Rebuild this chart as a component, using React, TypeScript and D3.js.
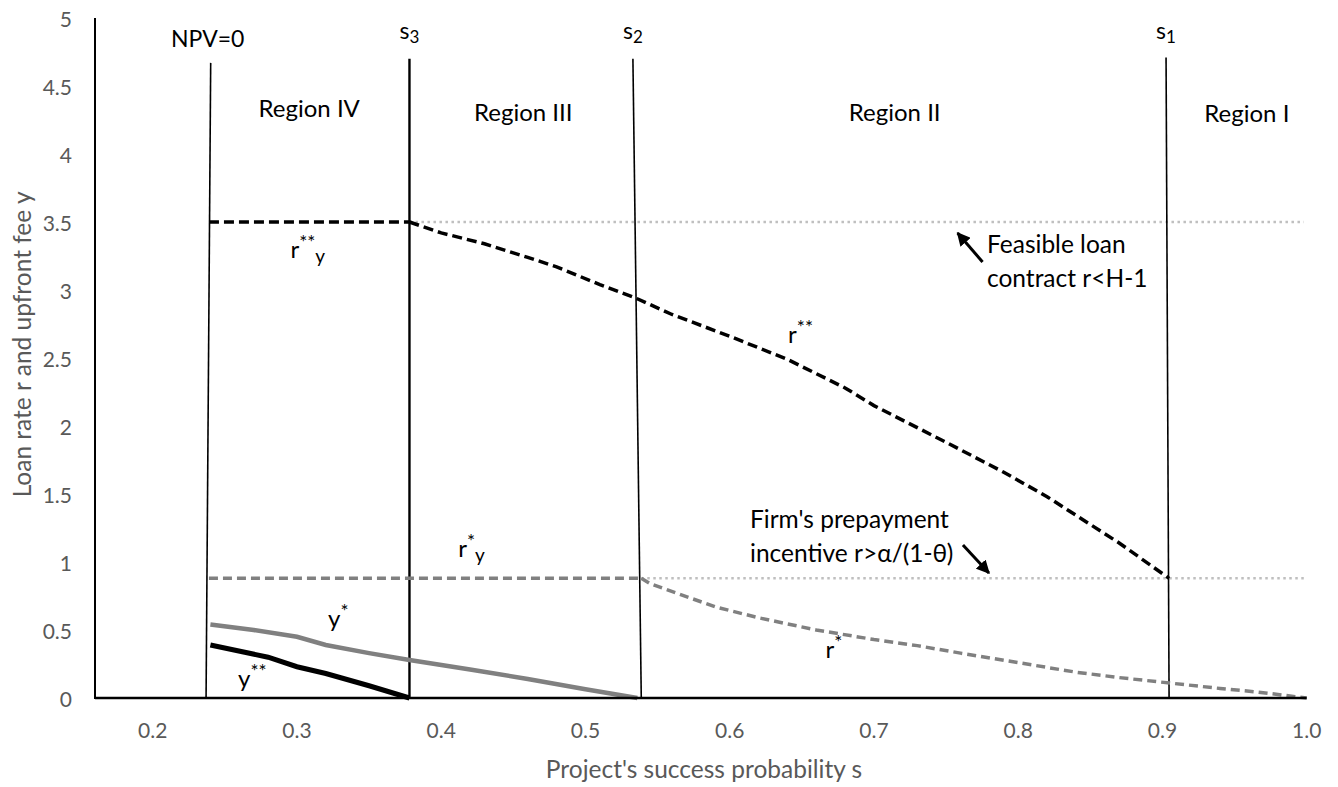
import * as d3 from 'd3';

// x: project's success probability, y: loan rate / upfront fee
const xTicks = [0.2, 0.3, 0.4, 0.5, 0.6, 0.7, 0.8, 0.9, 1.0];
const yTicks = [0, 0.5, 1, 1.5, 2, 2.5, 3, 3.5, 4, 4.5, 5];

// boundary lines (drawn as two-point scatter lines)
const boundaryNames = ['NPV=0', 's3', 's2', 's1'];
const boundaryBottomS = [0.237, 0.378, 0.5387, 0.9046];
const boundaryTopS = [0.2402, 0.378, 0.5329, 0.9025];
const boundaryTopV = [4.67, 4.7, 4.7, 4.71];

const regionNames = ['Region IV', 'Region III', 'Region II', 'Region I'];

// r**_y flat segment and r** curve
const rssYS = [0.239, 0.378];
const rssYV = [3.5, 3.5];
const rssS = [0.378, 0.4, 0.43, 0.46, 0.48, 0.51, 0.535, 0.56, 0.6, 0.64, 0.68, 0.7, 0.75, 0.79, 0.82, 0.87, 0.9046];
const rssV = [3.5, 3.42, 3.34, 3.24, 3.17, 3.04, 2.94, 2.82, 2.66, 2.49, 2.28, 2.15, 1.88, 1.66, 1.48, 1.14, 0.88];

// r*_y flat segment and r* curve
const rsYS = [0.239, 0.5387];
const rsYV = [0.88, 0.88];
const rsS = [0.5387, 0.545, 0.59, 0.62, 0.66, 0.7, 0.73, 0.76, 0.8, 0.84, 0.87, 0.905, 0.94, 0.965, 1.0];
const rsV = [0.88, 0.84, 0.67, 0.59, 0.5, 0.43, 0.385, 0.33, 0.26, 0.19, 0.15, 0.11, 0.07, 0.045, 0.0];

// upfront fees
const ysS = [0.24, 0.27, 0.3, 0.32, 0.35, 0.378, 0.42, 0.46, 0.5, 0.536];
const ysV = [0.54, 0.5, 0.45, 0.39, 0.33, 0.28, 0.21, 0.14, 0.064, 0];
const yssS = [0.24, 0.28, 0.3, 0.32, 0.35, 0.378];
const yssV = [0.39, 0.3, 0.23, 0.18, 0.09, 0];

// constraint lines (dotted)
const feasibleS = [0.378, 0.998];
const feasibleV = [3.5, 3.5];
const prepaySS = [0.5387, 0.998];
const prepayV = [0.88, 0.88];

const W = 1338;
const H = 787;
const FONT = 'Lato, "Open Sans", sans-serif';

type P = [number, number];
const zip = (s: number[], v: number[]): P[] => s.map((d, i) => [d, v[i]]);

export default function App() {
  const x = d3.scaleLinear().domain([0.16, 1.0]).range([95, 1306.7]);
  const y = d3.scaleLinear().domain([0, 5]).range([698, 18]);
  const line = d3.line<P>().x(d => x(d[0])).y(d => y(d[1]));

  const regionPos: P[] = [[0.3085, 117], [0.4569, 121], [0.7144, 121], [0.9585, 122]];

  const sup = (base: string, s1: string, s2?: string) => (
    <>
      <tspan>{base}</tspan>
      <tspan fontSize={19} dy={-9}>{s1}</tspan>
      {s2 && <tspan fontSize={19} dy={14}>{s2}</tspan>}
    </>
  );

  return (
    <svg width={W} height={H} style={{ position: 'absolute', left: 0, top: 0, background: '#fff' }}
      fontFamily={FONT}>
      <rect width={W} height={H} fill="#fff" />

      {/* dotted constraint lines */}
      <path d={line(zip(feasibleS, feasibleV)) || ''} fill="none" stroke="#BFBFBF" strokeWidth={2.5}
        strokeDasharray="2.5,3.5" />
      <path d={line(zip(prepaySS, prepayV)) || ''} fill="none" stroke="#BFBFBF" strokeWidth={2.5}
        strokeDasharray="2.5,3.5" />

      {/* boundaries */}
      {boundaryNames.map((n, i) => (
        <line key={n} x1={x(boundaryBottomS[i])} y1={y(0)} x2={x(boundaryTopS[i])} y2={y(boundaryTopV[i])}
          stroke="#000" strokeWidth={i === 1 ? 2.4 : 1.6} />
      ))}

      {/* series */}
      <path d={line(zip(rssYS, rssYV)) || ''} fill="none" stroke="#000" strokeWidth={3.5} strokeDasharray="10,5" />
      <path d={line(zip(rssS, rssV)) || ''} fill="none" stroke="#000" strokeWidth={3.5} strokeDasharray="10,5" />
      <path d={line(zip(rsYS, rsYV)) || ''} fill="none" stroke="#808080" strokeWidth={3.5} strokeDasharray="9,5" />
      <path d={line(zip(rsS, rsV)) || ''} fill="none" stroke="#808080" strokeWidth={3.5} strokeDasharray="9,5" />
      <path d={line(zip(ysS, ysV)) || ''} fill="none" stroke="#808080" strokeWidth={4.5} />
      <path d={line(zip(yssS, yssV)) || ''} fill="none" stroke="#000" strokeWidth={5} />

      {/* axes */}
      <line x1={x(0.16)} x2={x(1.0)} y1={y(0)} y2={y(0)} stroke="#000" strokeWidth={2.5} />
      <line x1={x(0.16)} x2={x(0.16)} y1={y(0) + 1} y2={y(5)} stroke="#000" strokeWidth={2} />

      {xTicks.map(t => (
        <text key={t} x={x(t)} y={729} textAnchor="middle" dominantBaseline="central" fontSize={21}
          fill="#595959">{t.toFixed(1)}</text>
      ))}
      {yTicks.map(t => (
        <text key={t} x={72} y={y(t)} textAnchor="end" dominantBaseline="central" fontSize={21}
          fill="#595959">{String(t)}</text>
      ))}

      <text x={704} y={778} textAnchor="middle" fontSize={24.5} fill="#595959">Project's success probability s</text>
      <text transform={`translate(31,${y(2.6)}) rotate(-90)`} textAnchor="middle" fontSize={24.5}
        fill="#595959">Loan rate r and upfront fee y</text>

      {/* boundary labels */}
      <text x={x(boundaryTopS[0]) - 3} y={47} textAnchor="middle" fontSize={23}>NPV=0</text>
      {boundaryNames.slice(1).map((n, i) => (
        <text key={n} x={x(boundaryTopS[i + 1]) - 10} y={39} fontSize={23}>
          <tspan>s</tspan><tspan fontSize={17} dy={4}>{n.slice(1)}</tspan>
        </text>
      ))}

      {regionNames.map((n, i) => (
        <text key={n} x={x(regionPos[i][0])} y={regionPos[i][1]} textAnchor="middle" fontSize={24}>{n}</text>
      ))}

      {/* curve labels */}
      <text x={x(0.2955)} y={y(3.235)} fontSize={24}>{sup('r', '**', 'y')}</text>
      <text x={x(0.4118)} y={y(1.037)} fontSize={24}>{sup('r', '*', 'y')}</text>
      <text x={x(0.6405)} y={y(2.61)} fontSize={24}>{sup('r', '**')}</text>
      <text x={x(0.6664)} y={y(0.294)} fontSize={24}>{sup('r', '*')}</text>
      <text x={x(0.3216)} y={y(0.522)} fontSize={24}>{sup('y', '*')}</text>
      <text x={x(0.2592)} y={y(0.081)} fontSize={24}>{sup('y', '**')}</text>

      {/* annotations */}
      <defs>
        <marker id="ah" viewBox="0 0 10 10" refX={9} refY={5} markerWidth={4.5} markerHeight={4.5} orient="auto">
          <path d="M0,0 L10,5 L0,10 z" fill="#000" />
        </marker>
      </defs>
      <line x1={x(0.7753)} y1={y(3.206)} x2={x(0.758)} y2={y(3.419)} stroke="#000" strokeWidth={3}
        markerEnd="url(#ah)" />
      <text x={987} y={253} fontSize={24.5}>Feasible loan</text>
      <text x={987} y={287} fontSize={24.5}>contract r&lt;H-1</text>

      <line x1={x(0.7617)} y1={y(1.125)} x2={x(0.7797)} y2={y(0.919)} stroke="#000" strokeWidth={3}
        markerEnd="url(#ah)" />
      <text x={750} y={528} fontSize={24.5}>Firm's prepayment</text>
      <text x={750} y={562} fontSize={24.5}>incentive r&gt;α/(1-θ)</text>
    </svg>
  );
}
